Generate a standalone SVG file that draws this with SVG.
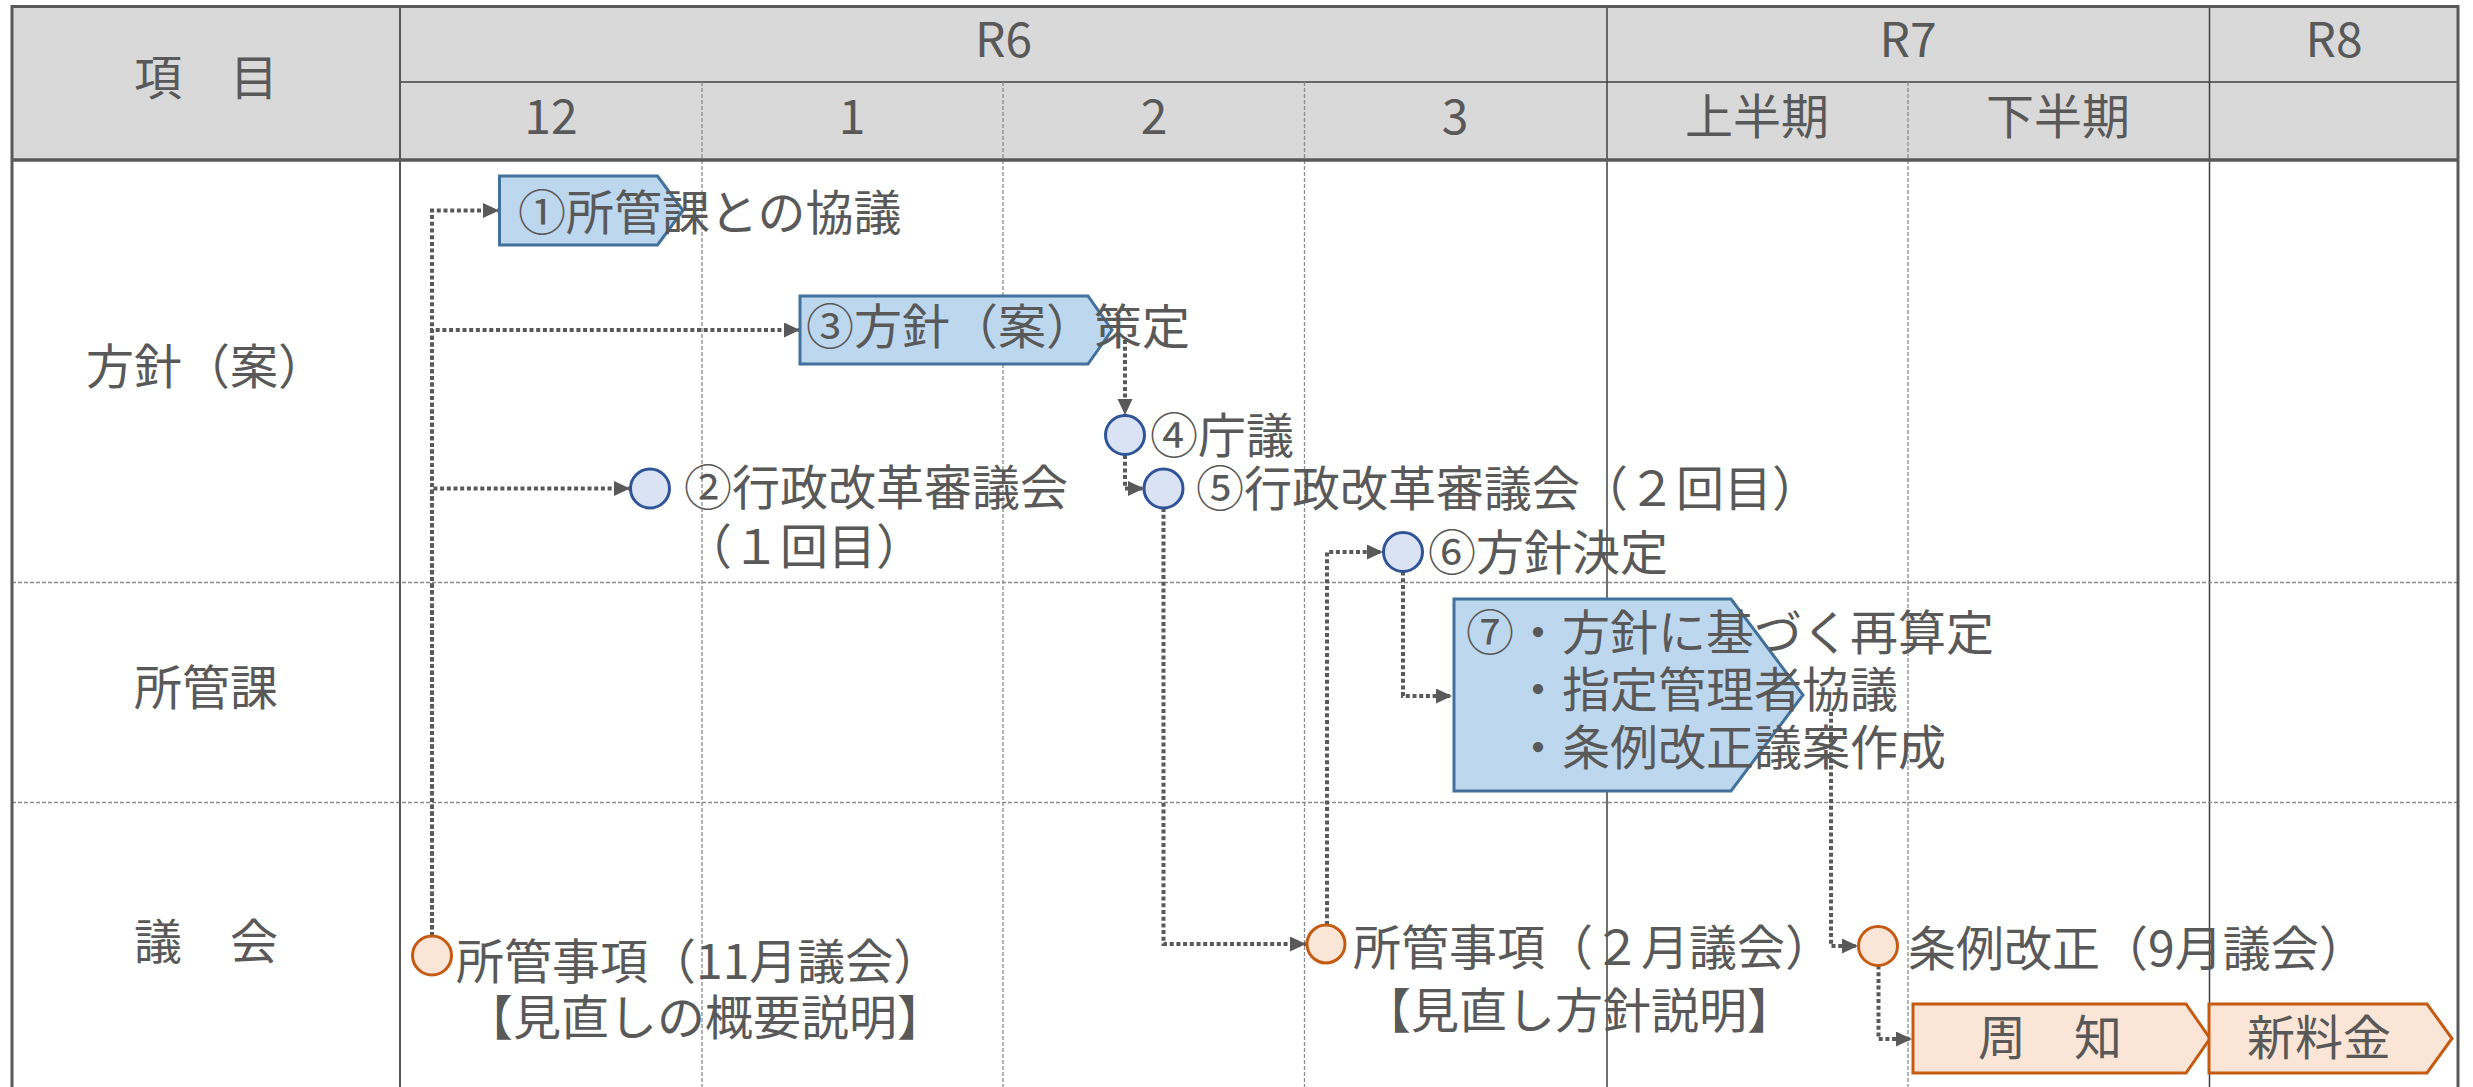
<svg xmlns="http://www.w3.org/2000/svg" width="2473" height="1087" viewBox="0 0 2473 1087">
<style>
  text { font-family: "Noto Sans CJK JP", "Noto Sans", sans-serif; font-size: 48px; fill: #595959; }
  .mid { text-anchor: middle; }
  .grid-solid { stroke: #404040; stroke-width: 1.5; fill: none; }
  .grid-dash { stroke: #8c8c8c; stroke-width: 1.3; stroke-dasharray: 4 2; fill: none; }
  .frame { stroke: #595959; stroke-width: 3; fill: none; }
  .bluebox { fill: #bdd7ee; stroke: #41719c; stroke-width: 3; }
  .orangebox { fill: #fbe5d6; stroke: #c55a11; stroke-width: 3; }
  .bluedot { fill: #dae3f3; stroke: #2f5597; stroke-width: 3; }
  .orangedot { fill: #fbe5d6; stroke: #c55a11; stroke-width: 3; }
  .conn { fill: none; stroke: #595959; stroke-width: 4; stroke-dasharray: 4 2.7; marker-end: url(#arrow); }
</style>
<defs>
  <marker id="arrow" markerUnits="userSpaceOnUse" markerWidth="18" markerHeight="18" refX="16" refY="7.5" orient="auto">
    <path d="M0,0 L16,7.5 L0,15 Z" fill="#595959"/>
  </marker>
</defs>
<rect x="0" y="0" width="2473" height="1087" fill="#ffffff"/>

<g id="grid">
  <rect x="12" y="6.5" width="2446" height="153.5" fill="#d9d9d9"/>
  <line class="grid-solid" x1="400" y1="82" x2="2458" y2="82"/>
  <line class="grid-dash" x1="702" y1="82" x2="702" y2="1087"/>
  <line class="grid-dash" x1="1003" y1="82" x2="1003" y2="1087"/>
  <line class="grid-dash" x1="1304.5" y1="82" x2="1304.5" y2="1087"/>
  <line class="grid-dash" x1="1908" y1="82" x2="1908" y2="1087"/>
  <line class="grid-solid" x1="1607" y1="6.5" x2="1607" y2="1087"/>
  <line class="grid-solid" x1="2209.5" y1="6.5" x2="2209.5" y2="1087"/>
  <line class="grid-dash" x1="12" y1="582.5" x2="2458" y2="582.5"/>
  <line class="grid-dash" x1="12" y1="802.5" x2="2458" y2="802.5"/>
  <line x1="400" y1="6.5" x2="400" y2="1087" stroke="#595959" stroke-width="2"/>
  <line x1="12" y1="160" x2="2458" y2="160" stroke="#595959" stroke-width="3.5"/>
  <rect class="frame" x="12" y="6.5" width="2446" height="1100"/>
</g>

<g id="header">
  <text class="mid" x="206" y="95">項　目</text>
  <text class="mid" x="1003.5" y="57">R6</text>
  <text class="mid" x="1908" y="57">R7</text>
  <text class="mid" x="2334" y="57">R8</text>
  <text class="mid" x="551" y="134">12</text>
  <text class="mid" x="852" y="134">1</text>
  <text class="mid" x="1154" y="134">2</text>
  <text class="mid" x="1455" y="134">3</text>
  <text class="mid" x="1757" y="134">上半期</text>
  <text class="mid" x="2058" y="134">下半期</text>
</g>

<g id="row-labels">
  <text class="mid" x="206" y="384">方針（案）</text>
  <text class="mid" x="206" y="705">所管課</text>
  <text class="mid" x="206" y="959">議　会</text>
</g>

<g id="connectors">
  <path class="conn" d="M432,936 V210.5 H499"/>
  <path class="conn" d="M432,936 V330 H800"/>
  <path class="conn" d="M432,936 V488.5 H630"/>
  <path class="conn" d="M1125,340 V415"/>
  <path class="conn" d="M1125,455 V488.5 H1144"/>
  <path class="conn" d="M1163.5,508 V944 H1306"/>
  <path class="conn" d="M1327,925 V552 H1383"/>
  <path class="conn" d="M1403,571.5 V696 H1452"/>
  <path class="conn" d="M1831,712 V946 H1858"/>
  <path class="conn" d="M1878.5,965.5 V1039 H1912"/>
</g>

<g id="node-1">
  <polygon class="bluebox" points="499.5,176 657.5,176 683,210.5 657.5,245 499.5,245"/>
  <text x="518" y="230">①所管課との協議</text>
</g>
<g id="node-3">
  <polygon class="bluebox" points="800,296 1088,296 1112,330 1088,364 800,364"/>
  <text x="806" y="344">③方針（案）策定</text>
</g>
<g id="node-2">
  <circle class="bluedot" cx="650" cy="488.5" r="19.5"/>
  <text x="684" y="505">②行政改革審議会</text>
  <text x="684" y="564">（１回目）</text>
</g>
<g id="node-4">
  <circle class="bluedot" cx="1125" cy="435" r="19.5"/>
  <text x="1150" y="453">④庁議</text>
</g>
<g id="node-5">
  <circle class="bluedot" cx="1163.5" cy="488.5" r="19.5"/>
  <text x="1196" y="506">⑤行政改革審議会（２回目）</text>
</g>
<g id="node-6">
  <circle class="bluedot" cx="1403" cy="552" r="19.5"/>
  <text x="1428" y="570">⑥方針決定</text>
</g>
<g id="node-7">
  <polygon class="bluebox" points="1454,599 1731,599 1803,695 1731,791 1454,791"/>
  <text x="1466" y="650">⑦・方針に基づく再算定</text>
  <text x="1514" y="707">・指定管理者協議</text>
  <text x="1514" y="765">・条例改正議案作成</text>
</g>
<g id="node-council-nov">
  <circle class="orangedot" cx="432" cy="955.5" r="19.5"/>
  <text x="456" y="979">所管事項（11月議会）</text>
  <text x="465" y="1035">【見直しの概要説明】</text>
</g>
<g id="node-council-feb">
  <circle class="orangedot" cx="1326" cy="944" r="19"/>
  <text x="1353" y="965">所管事項（２月議会）</text>
  <text x="1363" y="1028">【見直し方針説明】</text>
</g>
<g id="node-council-sep">
  <circle class="orangedot" cx="1878" cy="946" r="19.5"/>
  <text x="1908" y="966">条例改正（9月議会）</text>
</g>
<g id="node-notice">
  <polygon class="orangebox" points="1913,1004 2186,1004 2210,1038.5 2186,1073 1913,1073"/>
  <text class="mid" x="2050" y="1055">周　知</text>
</g>
<g id="node-newfee">
  <polygon class="orangebox" points="2209,1004 2427,1004 2452,1038.5 2427,1073 2209,1073"/>
  <text class="mid" x="2319" y="1055">新料金</text>
</g>
</svg>
